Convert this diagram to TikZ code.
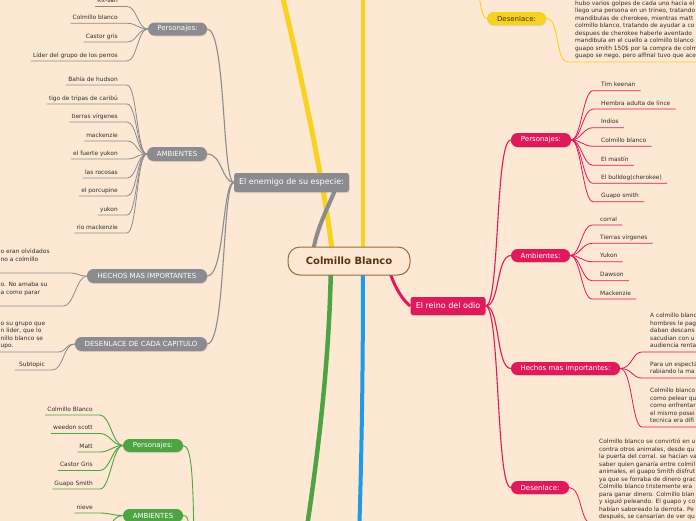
\documentclass[tikz,border=0pt]{standalone}
\usepackage{fontspec}
\setmainfont{DejaVu Sans}
\usetikzlibrary{shadows}
\pgfdeclarelayer{back}
\pgfsetlayers{back,main}
\definecolor{bg}{HTML}{FDE8D3}
\definecolor{gr}{HTML}{8B8B90}
\definecolor{yl}{HTML}{F9D11F}
\definecolor{pk}{HTML}{E0195B}
\definecolor{gn}{HTML}{4DA443}
\definecolor{bl}{HTML}{1E9BE8}
\definecolor{brn}{HTML}{9A6B3F}
\definecolor{brt}{HTML}{5B3312}
\definecolor{txt}{HTML}{2E2E2E}
\definecolor{ytx}{HTML}{3D3416}
\begin{document}
\begin{tikzpicture}[x=1pt,y=-1pt,
  shad/.style={drop shadow={shadow xshift=0.6pt, shadow yshift=-1pt, opacity=0.22}},
  topic/.style={shad, rounded corners=6.5pt, minimum height=13pt, inner sep=0pt, text=white, font=\fontsize{7}{8}\selectfont},
  mainbox/.style={shad, rounded corners=2.5pt, minimum height=19pt, inner sep=0pt, text=white, font=\fontsize{8}{9}\selectfont},
  rootbox/.style={draw=brn, line width=1pt, fill=bg, rounded corners=12pt, minimum width=122pt, minimum height=28pt, inner sep=0pt, text=brt, font=\bfseries\fontsize{10}{12}\selectfont},
  leaf/.style={inner xsep=2pt, inner ysep=2.2pt, text depth=1.4pt, text height=4.4pt, text=txt, font=\fontsize{5.9}{7.5}\selectfont},
  mleaf/.style={inner xsep=2pt, inner ysep=1.8pt, text=txt, align=left, font=\fontsize{5.9}{7.5}\selectfont},
  gsub/.style={draw=gr, line width=1.1pt},
  gl/.style={draw=gr, line width=0.8pt},
  psub/.style={draw=pk, line width=1.1pt},
  pl/.style={draw=pk, line width=0.8pt},
  nl/.style={draw=gn, line width=0.9pt},
  yln/.style={draw=yl, line width=0.9pt}
]
\useasboundingbox (0,0) rectangle (696,520);

% ---------- nodes ----------
\node[rootbox] (C) at (349,261) {Colmillo Blanco};
\node[mainbox, fill=gr, minimum width=115pt] (E) at (291.5,182.5) {El enemigo de su especie:};
\node[mainbox, fill=pk, minimum width=75pt, minimum height=18pt] (R) at (448,306) {El reino del odio};

\node[topic, fill=gr, minimum width=59pt] (gP) at (177.5,29) {Personajes:};
\node[topic, fill=gr, minimum width=60pt, minimum height=14pt] (gA) at (177,154) {AMBIENTES};
\node[topic, fill=gr, minimum width=120pt, minimum height=14pt] (gH) at (147,276) {HECHOS MAS IMPORTANTES};
\node[topic, fill=gr, minimum width=132pt, minimum height=14pt] (gD) at (141,344) {DESENLACE DE CADA CAPITULO};

\node[topic, fill=yl, text=ytx, minimum width=59pt] (yD) at (516.5,18.5) {Desenlace:};

\node[topic, fill=pk, minimum width=60pt, minimum height=14pt] (pP) at (541,140) {Personajes:};
\node[topic, fill=pk, minimum width=59pt] (pA) at (540.5,255.5) {Ambientes:};
\node[topic, fill=pk, minimum width=109pt] (pH) at (565.5,368.5) {Hechos mas importantes:};
\node[topic, fill=pk, minimum width=58pt] (pD) at (540,487.5) {Desenlace:};

\node[topic, fill=gn, minimum width=60pt] (nP) at (153,445.5) {Personajes:};
\node[topic, fill=gn, minimum width=60pt] (nA) at (153,515.5) {AMBIENTES};

% off-picture ends
\coordinate (ytop1) at (281,-10);
\coordinate (ytop2) at (363,-10);
\coordinate (ytop3) at (478,-8);
\coordinate (gbot) at (305,540);
\coordinate (bbot) at (359,540);
\coordinate (nbot1) at (194,540);
\coordinate (nbot2) at (190,540);
\coordinate (nbot3) at (104,540);

% ---------- main branches (behind) ----------
\begin{pgfonlayer}{back}
\fill[bg] (-5,-5) rectangle (701,525);
\draw[yl, line width=5pt] ([xshift=-16pt]C.center) .. controls (328,200) and (300,70) .. (ytop1);
\draw[yl, line width=4.5pt] ([xshift=14pt]C.center) -- (ytop2);
\draw[gr, line width=4pt] ([xshift=-37pt]C.center) .. controls (314,230) and (330,205) .. ([xshift=46.5pt]E.center);
\draw[pk, line width=3pt] ([xshift=38pt]C.center) .. controls (391,282) and (402,300) .. (R.west);
\draw[bl, line width=4pt] ([xshift=14pt]C.center) .. controls (363,400) and (361,470) .. (bbot);
\draw[gn, line width=4.5pt] ([xshift=-18pt]C.center) .. controls (330,340) and (322,430) .. (gbot);
\end{pgfonlayer}

% ---------- gray subtree ----------
\draw[gsub] (E.west) .. controls (222,182) and (226,29) .. (gP.east);
\draw[gsub] (E.west) .. controls (222,182) and (222,154) .. (gA.east);
\draw[gsub] (E.west) .. controls (222,182) and (225,276) .. (gH.east);
\draw[gsub] (E.west) .. controls (222,182) and (226,344) .. (gD.east);

\foreach \t/\y [count=\i] in {Kit-san/6.5, Colmillo blanco/23.3, Castor gris/42, Líder del grupo de los perros/61}{
  \node[leaf, anchor=south east] (gp\i) at (120,\y) {\t};
  \draw[gl] (gP.west) .. controls +(-10,0) and +(10,0) .. ([xshift=7pt]gp\i.south east) -- (gp\i.south west);
}
\foreach \t/\y [count=\i] in {Bahía de hudson/85, tigo de tripas de caribú/104, tierras vírgenes/122, mackenzie/141, el fuerte yukon/159, las rocosas/178, el porcupine/196, yukon/215, rio mackenzie/233}{
  \node[leaf, anchor=south east] (ga\i) at (120,\y) {\t};
  \draw[gl] (gA.west) .. controls +(-10,0) and +(10,0) .. ([xshift=7pt]ga\i.south east) -- (ga\i.south west);
}
\node[mleaf, anchor=south west] (gh1) at (-1.5,273) {o eran olvidados\\no a colmillo\\\strut};
\draw[gl] (gH.west) .. controls +(-9,0) and +(9,0) .. ([xshift=18pt]gh1.south east) -- (gh1.south west);
\node[mleaf, anchor=south west] (gh2) at (-1.5,306) {o. No amaba su\\a como parar\\\strut};
\draw[gl] (gH.west) .. controls +(-10,0) and +(10,0) .. ([xshift=14pt]gh2.south east) -- (gh2.south west);

\node[mleaf, anchor=south west] (gd1) at (-1.5,352) {o su grupo que\\n lider, que lo\\nillo blanco se\\upo.\strut};
\draw[gl] (gD.west) .. controls +(-10,0) and +(10,0) .. ([xshift=10pt]gd1.south east) -- (gd1.south west);
\node[leaf, anchor=south east] (gd2) at (47,370) {Subtopic};
\draw[gl] (gD.west) .. controls +(-12,0) and +(12,0) .. ([xshift=5pt]gd2.south east) -- ([xshift=-2pt]gd2.south west);

% ---------- yellow ----------
\draw[yln] (yD.west) .. controls (482,18) and (481,5) .. (ytop3);
\node[mleaf, anchor=south west] (y1) at (573,62) {hubo varios golpes de cada uno hacia el\\llego una persona en un trineo, tratando\\mandibulas de cherokee, mientras matt\\colmillo blanco, tratando de ayudar a co\\despues de cherokee haberle aventado\\mandibula en el cuello a colmillo blanco\\guapo smith 150\$ por la compra de colm\\guapo se nego, pero alfinal tuvo que ace\strut};
\draw[yln] (yD.east) .. controls (560,18) and (555,62) .. ([xshift=-5pt]y1.south west) -- ++(150,0);

% ---------- pink subtree ----------
\draw[psub] (R.east) .. controls (500,306) and (495,140) .. (pP.west);
\draw[psub] (R.east) .. controls (500,306) and (496,256) .. (pA.west);
\draw[psub] (R.east) .. controls (500,306) and (496,368) .. (pH.west);
\draw[psub] (R.east) .. controls (500,306) and (496,488) .. (pD.west);

\foreach \t/\y [count=\i] in {Tim keenan/90.7, Hembra adulta de lince/109, Indios/127.7, Colmillo blanco/146.3, El mastín/165.3, El bulldog(cherokee)/183.3, Guapo smith/201.7}{
  \node[leaf, anchor=south west] (pp\i) at (599,\y) {\t};
  \draw[pl] (pP.east) .. controls +(10,0) and +(-10,0) .. ([xshift=-6pt]pp\i.south west) -- ([xshift=3pt]pp\i.south east);
}
\foreach \t/\y [count=\i] in {corral/225, Tierras virgenes/243.3, Yukon/261.7, Dawson/280.7, Mackenzie/299}{
  \node[leaf, anchor=south west] (pa\i) at (598,\y) {\t};
  \draw[pl] (pA.east) .. controls +(10,0) and +(-10,0) .. ([xshift=-6pt]pa\i.south west) -- ([xshift=3pt]pa\i.south east);
}
\node[mleaf, anchor=south west] (ph1) at (648,352) {A colmillo blanc\\hombres le pag\\daban descans\\sacudian con u\\audiencia renta\strut};
\node[mleaf, anchor=south west] (ph2) at (648,378) {Para un espectá\\rabiando la ma\strut};
\node[mleaf, anchor=south west] (ph3) at (648,427) {Colmillo blanco\\como pelear qu\\como enfrentar\\el mismo posei\\tecnica era difi\strut};
\foreach \k in {ph1,ph2,ph3}{
  \draw[pl] (pH.east) .. controls +(12,0) and +(-10,0) .. ([xshift=-6pt]\k.south west) -- ++(100,0);
}
\node[mleaf, anchor=north west] (pd1) at (597,437) {Colmillo blanco se convirtió en u\\contra otros animales, desde qu\\la puerta del corral. se hacían va\\saber quien ganaría entre colmil\\animales, el guapo Smith disfrut\\ya que se forraba de dinero grac\\Colmillo blanco tristemente era\\para ganar dinero. Colmillo blan\\y siguió peleando. El guapo y co\\habían saboreado la derrota. Pe\\después, se cansarían de ver qu\strut};
\draw[pl] (pD.east) .. controls (582,488) and (580,523) .. ([xshift=-6pt]pd1.south west) -- ++(150,0);

% ---------- green subtree ----------
\foreach \t/\y [count=\i] in {Colmillo Blanco/415, weedon scott/433.5, Matt/452, Castor Gris/470.5, Guapo Smith/489}{
  \node[leaf, anchor=south east] (np\i) at (95,\y) {\t};
  \draw[nl] (nP.west) .. controls +(-10,0) and +(10,0) .. ([xshift=5pt]np\i.south east) -- (np\i.south west);
}
\node[leaf, anchor=south east] (na1) at (95,513) {nieve};
\draw[nl] (nA.west) .. controls +(-10,0) and +(10,0) .. ([xshift=5pt]na1.south east) -- (na1.south west);
\draw[nl] (nA.west) .. controls (112,516) and (110,528) .. (nbot3);
\draw[nl] (nP.east) .. controls (192,445) and (193,480) .. (nbot1);
\draw[nl] (nA.east) .. controls (188,516) .. (nbot2);
\end{tikzpicture}
\end{document}
